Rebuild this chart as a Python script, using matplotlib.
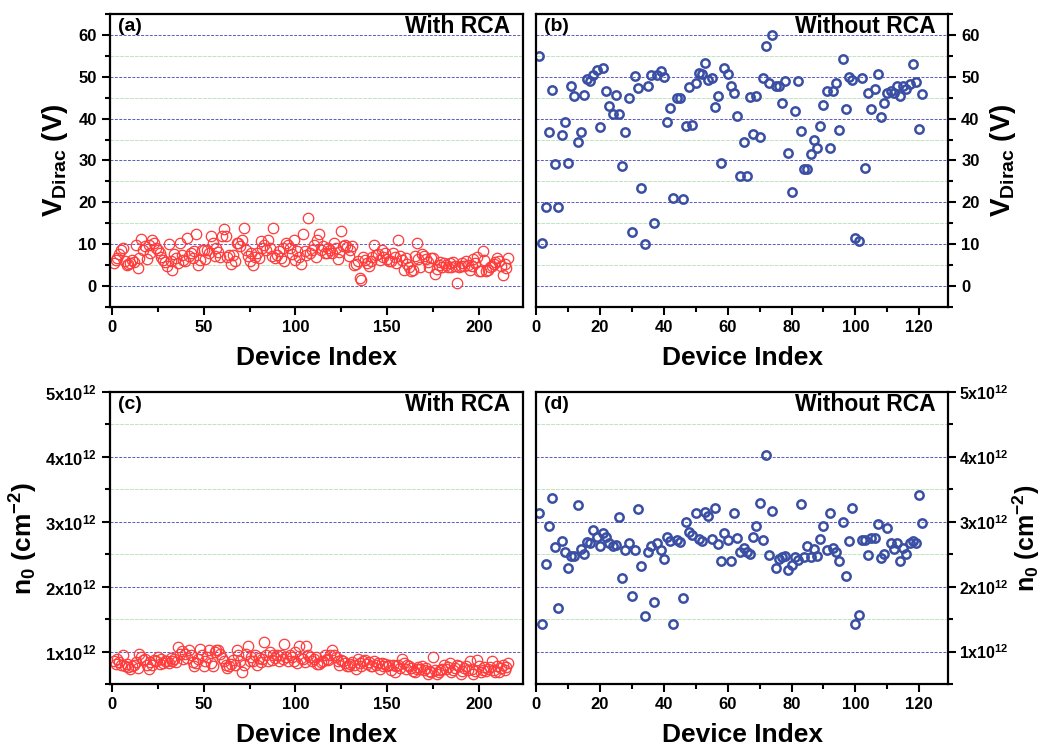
import numpy as np
import matplotlib
matplotlib.use("Agg")
import matplotlib.pyplot as plt
from matplotlib.ticker import MultipleLocator, FuncFormatter

plt.rcParams['font.family'] = ['Liberation Sans', 'DejaVu Sans']
plt.rcParams['font.weight'] = 'bold'
plt.rcParams['mathtext.fontset'] = 'custom'
plt.rcParams['mathtext.rm'] = 'Liberation Sans:bold'
plt.rcParams['mathtext.bf'] = 'Liberation Sans:bold'
plt.rcParams['mathtext.it'] = 'Liberation Sans:bold'
plt.rcParams['mathtext.default'] = 'bf'

# V_Dirac (V), with RCA
vdirac_rca = [
    5.5, 6.2, 6.7, 7.7, 8.6, 9.1, 5.9, 5.1, 5.3, 5.5,
    6.3, 5.7, 9.7, 4.3, 6.7, 11.2, 8.5, 9.5, 6.5, 9.9,
    8.0, 10.9, 10.3, 9.1, 8.6, 8.0, 6.9, 6.3, 5.7, 4.9,
    10.0, 5.9, 3.9, 7.7, 6.7, 5.5, 10.3, 7.5, 6.2, 5.9,
    11.5, 7.1, 7.9, 6.7, 8.3, 12.4, 5.1, 6.3, 8.7, 8.5,
    6.5, 8.7, 7.8, 12.0, 10.3, 7.3, 9.1, 8.2, 7.0, 11.9,
    13.6, 12.0, 6.9, 7.5, 5.3, 7.5, 6.0, 10.3, 10.4, 9.5,
    10.9, 13.9, 8.5, 7.1, 6.1, 7.8, 5.1, 6.9, 8.0, 6.7,
    10.7, 9.1, 9.7, 8.5, 10.9, 9.1, 7.3, 13.9, 6.7, 7.5,
    8.3, 6.7, 9.1, 5.9, 10.4, 9.9, 9.1, 7.6, 10.9, 6.3,
    8.3, 7.0, 5.3, 12.5, 8.3, 7.5, 16.3, 7.9, 8.5, 9.9,
    6.9, 11.1, 12.5, 8.7, 9.5, 7.9, 8.0, 9.1, 8.5, 7.8,
    10.3, 9.1, 6.5, 8.2, 13.1, 9.5, 9.9, 9.3, 7.3, 8.5,
    9.6, 5.1, 5.3, 5.9, 1.9, 1.4, 6.9, 6.3, 5.5, 4.9,
    5.9, 6.9, 9.9, 7.5, 7.7, 6.3, 8.7, 6.9, 7.9, 6.5,
    5.9, 6.1, 7.9, 6.9, 5.6, 11.1, 7.3, 6.3, 3.9, 6.7,
    5.2, 4.5, 3.7, 3.9, 7.3, 10.4, 6.5, 4.5, 7.7, 7.3,
    6.5, 5.7, 4.5, 6.7, 6.7, 2.9, 4.1, 5.1, 5.7, 4.5,
    5.5, 5.1, 4.6, 5.5, 4.5, 5.7, 4.9, 0.7, 4.5, 4.9,
    5.4, 4.9, 6.1, 5.1, 3.9, 4.9, 6.5, 5.6, 6.9, 3.7,
    3.5, 8.3, 6.3, 3.5, 3.9, 4.5, 4.9, 5.2, 5.7, 6.7,
    5.9, 4.9, 2.7, 5.3, 4.4, 6.7,
]

# V_Dirac (V), without RCA
vdirac_norca = [
    55.0, 10.3, 19.0, 36.9, 46.9, 29.2, 18.9, 36.1, 39.1, 29.4,
    47.8, 45.5, 34.4, 36.9, 45.7, 49.5, 49.0, 50.4, 51.6, 38.1,
    52.2, 46.5, 43.1, 41.0, 45.7, 41.0, 28.8, 36.7, 44.9, 13.0,
    50.3, 47.3, 23.4, 10.1, 47.9, 50.4, 15.0, 50.4, 51.4, 50.0,
    39.1, 42.5, 21.0, 45.0, 44.9, 20.8, 38.3, 47.5, 38.5, 48.4,
    51.0, 50.7, 53.2, 49.2, 49.6, 42.9, 45.3, 29.5, 52.0, 50.6,
    47.7, 46.1, 40.7, 26.3, 34.5, 26.3, 45.1, 36.3, 45.4, 35.7,
    49.8, 57.4, 48.4, 60.0, 47.7, 47.7, 43.7, 49.0, 31.7, 22.4,
    41.8, 49.0, 37.1, 27.9, 27.9, 31.6, 34.9, 33.1, 38.3, 43.3,
    46.7, 33.1, 46.7, 48.4, 37.2, 54.2, 42.4, 50.0, 49.2, 11.5,
    10.7, 49.6, 28.3, 46.2, 42.3, 47.1, 50.6, 40.3, 43.8, 46.2,
    46.5, 46.2, 47.7, 45.4, 47.8, 47.0, 48.2, 53.0, 48.8, 37.5,
    45.9,
]

# n0 (x10^12 cm^-2), with RCA
n0_rca = [
    0.85, 0.81, 0.89, 0.84, 0.79, 0.95, 0.77, 0.81, 0.76, 0.73,
    0.78, 0.80, 0.84, 0.74, 0.97, 0.91, 0.87, 0.89, 0.80, 0.73,
    0.84, 0.79, 0.87, 0.85, 0.91, 0.81, 0.89, 0.82, 0.85, 0.85,
    0.82, 0.90, 0.86, 0.89, 0.84, 1.07, 0.96, 1.01, 0.89, 0.97,
    0.90, 1.02, 0.95, 0.84, 0.77, 0.82, 0.89, 1.04, 0.94, 0.77,
    0.85, 0.91, 1.03, 0.82, 0.77, 0.99, 1.02, 1.03, 0.97, 0.90,
    0.86, 0.80, 0.75, 0.77, 0.81, 0.87, 0.79, 1.03, 0.94, 0.85,
    0.68, 0.80, 0.97, 1.09, 0.85, 0.92, 0.86, 0.95, 0.80, 0.90,
    0.84, 0.88, 1.14, 0.95, 0.85, 0.99, 0.87, 0.95, 0.90, 0.94,
    0.85, 0.95, 0.89, 1.12, 0.92, 0.86, 0.95, 0.91, 0.85, 0.99,
    0.83, 1.08, 0.90, 0.89, 0.84, 1.08, 0.94, 0.91, 0.86, 0.89,
    0.92, 0.81, 0.81, 0.84, 0.85, 0.94, 0.89, 0.87, 0.95, 1.03,
    0.94, 0.92, 0.85, 0.80, 0.87, 0.85, 0.82, 0.78, 0.77, 0.81,
    0.84, 0.79, 0.73, 0.89, 0.82, 0.78, 0.85, 0.87, 0.81, 0.84,
    0.78, 0.77, 0.85, 0.80, 0.83, 0.73, 0.82, 0.78, 0.81, 0.77,
    0.79, 0.72, 0.80, 0.68, 0.77, 0.80, 0.74, 0.89, 0.82, 0.73,
    0.80, 0.77, 0.75, 0.70, 0.68, 0.73, 0.76, 0.73, 0.78, 0.71,
    0.74, 0.66, 0.70, 0.68, 0.92, 0.71, 0.66, 0.68, 0.71, 0.73,
    0.80, 0.73, 0.76, 0.82, 0.68, 0.71, 0.74, 0.80, 0.77, 0.66,
    0.70, 0.75, 0.77, 0.72, 0.85, 0.73, 0.66, 0.70, 0.87, 0.77,
    0.68, 0.72, 0.76, 0.70, 0.73, 0.76, 0.85, 0.72, 0.69, 0.77,
    0.68, 0.74, 0.80, 0.72, 0.76, 0.82,
]

# n0 (x10^12 cm^-2), without RCA
n0_norca = [
    3.13, 1.42, 2.35, 2.93, 3.36, 2.61, 1.67, 2.71, 2.54, 2.29,
    2.48, 2.48, 3.26, 2.58, 2.51, 2.69, 2.67, 2.87, 2.76, 2.62,
    2.83, 2.76, 2.68, 2.62, 2.64, 3.07, 2.14, 2.57, 2.67, 1.85,
    2.57, 3.19, 2.32, 1.55, 2.53, 2.63, 1.77, 2.68, 2.56, 2.43,
    2.77, 2.70, 1.42, 2.72, 2.69, 1.83, 3.00, 2.85, 2.79, 3.13,
    2.73, 2.70, 3.15, 3.09, 2.74, 3.22, 2.66, 2.39, 2.82, 2.72,
    2.39, 3.13, 2.75, 2.53, 2.59, 2.53, 2.51, 2.77, 2.94, 3.29,
    2.72, 4.03, 2.49, 3.17, 2.29, 2.43, 2.45, 2.48, 2.26, 2.34,
    2.45, 2.41, 3.27, 2.46, 2.62, 2.46, 2.58, 2.48, 2.73, 2.94,
    2.56, 3.14, 2.59, 2.53, 2.39, 3.00, 2.17, 2.70, 3.21, 1.42,
    1.56, 2.72, 2.72, 2.49, 2.75, 2.75, 2.97, 2.44, 2.50, 2.91,
    2.67, 2.58, 2.67, 2.39, 2.59, 2.51, 2.68, 2.71, 2.67, 3.41,
    2.98,
]

idx_rca = np.arange(1, len(vdirac_rca) + 1)
idx_norca = np.arange(1, len(vdirac_norca) + 1)

red = '#ff3b3b'
blue = '#3a4fa3'

fig = plt.figure(figsize=(10.49, 7.47), dpi=100)
W, H = 1049, 747
def place(l, t, r, b):
    return fig.add_axes([l / W, 1 - b / H, (r - l) / W, (b - t) / H])

ax_a = place(110, 14, 523, 307)
ax_b = place(536, 14, 948, 307)
ax_c = place(110, 392, 523, 684)
ax_d = place(536, 392, 948, 684)

def style(ax, right=False):
    for s in ax.spines.values():
        s.set_linewidth(1.6)
    ax.tick_params(which='both', direction='out', width=1.5, labelsize=12,
                   top=False)
    ax.tick_params(which='major', length=6)
    ax.tick_params(which='minor', length=3.5)
    if right:
        ax.yaxis.tick_right()
        ax.yaxis.set_label_position('right')
        ax.tick_params(axis='y', which='both', left=False)
    else:
        ax.tick_params(axis='y', which='both', right=False)
    ax.yaxis.grid(True, which='major', color='#5a5ac8', linestyle=(0, (3, 1.5)),
                  linewidth=0.7)
    ax.yaxis.grid(True, which='minor', color='#bfe6bf', linestyle=(0, (4, 1)),
                  linewidth=0.7)
    ax.set_axisbelow(True)
    for lab in ax.get_xticklabels() + ax.get_yticklabels():
        lab.set_fontweight('bold')

# (a)
ax_a.plot(idx_rca, vdirac_rca, 'o', mfc='none', mec=red, ms=7.5, mew=0.9)
ax_a.set_xlim(-1, 224)
ax_a.set_ylim(-5, 65)
ax_a.xaxis.set_major_locator(MultipleLocator(50))
ax_a.xaxis.set_minor_locator(MultipleLocator(25))
ax_a.yaxis.set_major_locator(MultipleLocator(10))
ax_a.yaxis.set_minor_locator(MultipleLocator(5))
ax_a.set_ylabel(r'V$_{Dirac}$ (V)', fontsize=20, fontweight='bold', labelpad=6)
ax_a.set_xlabel('Device Index', fontsize=19, fontweight='bold', labelpad=8)
style(ax_a)

# (b)
ax_b.plot(idx_norca, vdirac_norca, 'o', mfc='none', mec=blue, ms=6, mew=1.8)
ax_b.set_xlim(0, 129)
ax_b.set_ylim(-5, 65)
ax_b.xaxis.set_major_locator(MultipleLocator(20))
ax_b.xaxis.set_minor_locator(MultipleLocator(10))
ax_b.yaxis.set_major_locator(MultipleLocator(10))
ax_b.yaxis.set_minor_locator(MultipleLocator(5))
ax_b.set_ylabel(r'V$_{Dirac}$ (V)', fontsize=20, fontweight='bold', labelpad=6)
ax_b.set_xlabel('Device Index', fontsize=19, fontweight='bold', labelpad=8)
style(ax_b, right=True)

sci = FuncFormatter(lambda v, p: r'%dx10$^{12}$' % round(v))

# (c)
ax_c.plot(idx_rca, n0_rca, 'o', mfc='none', mec=red, ms=7.5, mew=0.9)
ax_c.set_xlim(-1, 224)
ax_c.set_ylim(0.5, 5.0)
ax_c.xaxis.set_major_locator(MultipleLocator(50))
ax_c.xaxis.set_minor_locator(MultipleLocator(25))
ax_c.yaxis.set_major_locator(MultipleLocator(1))
ax_c.yaxis.set_minor_locator(MultipleLocator(0.5))
ax_c.yaxis.set_major_formatter(sci)
ax_c.set_ylabel(r'n$_0$ (cm$^{-2}$)', fontsize=19, fontweight='bold', labelpad=4)
ax_c.set_xlabel('Device Index', fontsize=19, fontweight='bold', labelpad=8)
style(ax_c)

# (d)
ax_d.plot(idx_norca, n0_norca, 'o', mfc='none', mec=blue, ms=6, mew=1.8)
ax_d.set_xlim(0, 129)
ax_d.set_ylim(0.5, 5.0)
ax_d.xaxis.set_major_locator(MultipleLocator(20))
ax_d.xaxis.set_minor_locator(MultipleLocator(10))
ax_d.yaxis.set_major_locator(MultipleLocator(1))
ax_d.yaxis.set_minor_locator(MultipleLocator(0.5))
ax_d.yaxis.set_major_formatter(sci)
ax_d.set_ylabel(r'n$_0$ (cm$^{-2}$)', fontsize=18, fontweight='bold', labelpad=1)
ax_d.set_xlabel('Device Index', fontsize=19, fontweight='bold', labelpad=8)
style(ax_d, right=True)
ax_d.tick_params(axis='y', labelsize=11.5, pad=2)

for ax, tag, title in [(ax_a, '(a)', 'With RCA'), (ax_b, '(b)', 'Without RCA'),
                       (ax_c, '(c)', 'With RCA'), (ax_d, '(d)', 'Without RCA')]:
    ax.text(0.02, 0.985, tag, transform=ax.transAxes, ha='left', va='top',
            fontsize=14, fontweight='bold')
    ax.text(0.97, 0.995, title, transform=ax.transAxes, ha='right', va='top',
            fontsize=16.5, fontweight='bold')

fig.savefig('out.png', dpi=100)
